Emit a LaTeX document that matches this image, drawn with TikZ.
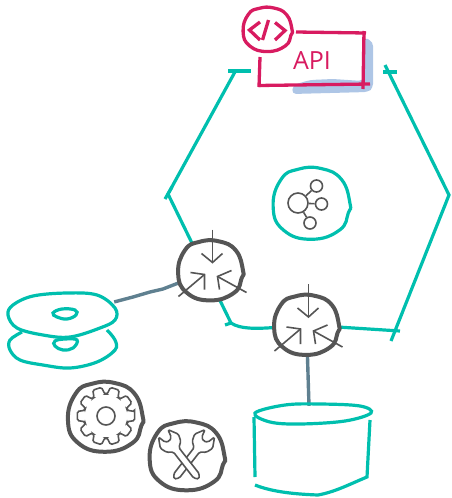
\documentclass[tikz,border=0pt]{standalone}
\usepackage{fontspec}
\setmainfont{Open Sans}
\usetikzlibrary{positioning}
\definecolor{tealline}{HTML}{00BFAE}
\definecolor{inkgrey}{HTML}{555555}
\definecolor{wiregrey}{HTML}{5F8090}
\definecolor{apired}{HTML}{D81B60}
\definecolor{shadowblue}{HTML}{AEC6E6}

\tikzset{
    wobble/.pic={
        \draw[pic actions] plot[smooth cycle, tension=0.8] coordinates {(0:1) (40:1.02) (75:0.99) (110:1) (140:1.03) (185:1) (225:1.03) (270:0.98) (315:1.03) (345:0.99)};
    },
    squeeze/.pic={
        \draw[thinline] (2,-41) -- (2,-8);
        \draw[thinline] (-9,-17) -- (2,-8) -- (12,-17);
        \draw[thinline] (-32,26) -- (-6,4);
        \draw[thinline] (-20,2) -- (-6,4) -- (-6,19);
        \draw[thinline] (36,22) -- (7,6);
        \draw[thinline] (21,0) -- (7,6) -- (9,19);
    },
    spanner/.pic={
        \draw[thinline, fill=white, rounded corners=1.5pt] (-3.5,10) -- (-3.5,43) -- (0,47) -- (3.5,43) -- (3.5,10) -- (9,6) -- (11.5,-1) -- (6,-11) -- (4,-3) -- (0,-1) -- (-4,-3) -- (-6,-11) -- (-11.5,-1) -- (-9,6) -- cycle;
    }
}

\begin{document}
\begin{tikzpicture}[x=1pt, y=-1pt]
    \tikzstyle{teal} = [draw=tealline, line width=3.2pt]
    \tikzstyle{ink} = [draw=inkgrey, line width=4pt]
    \tikzstyle{thinline} = [draw=inkgrey, line width=1.6pt]
    \tikzstyle{wire} = [draw=wiregrey, line width=3.4pt]
    \tikzstyle{redline} = [draw=apired, line width=3.3pt]
    \tikzstyle{bubble} = [circle, thinline, fill=white, inner sep=0pt]
    \tikzstyle{spot} = [inner sep=0pt, minimum size=0pt]

    \useasboundingbox (0,0) rectangle (451,498);

    \node[spot, circle, minimum size=60pt] (hubA) at (210.5,270.5) {};
    \node[spot, circle, minimum size=60pt] (hubB) at (306.5,325) {};
    \node[spot] (codeBadge) at (267.5,29.5) {};
    \node[spot] (serviceBlob) at (311.5,203.5) {};
    \node[spot] (gearBlob) at (105.3,417) {};
    \node[spot] (toolBlob) at (187,456) {};
    \node[spot] (diskEnd) at (114,302) {};
    \node[spot] (jarTop) at (309,406) {};
    \coordinate (wireBend) at (150,292);

    % wires
    \draw[wire] (diskEnd) -- (133,297) -- (wireBend) -- (163,289) -- (hubA);
    \draw[wire] (hubB) -- (jarTop);

    % hexagon
    \draw[teal] (236,70) -- (168,194) -- (231,323) .. controls (240,329) and (255,329) .. (hubB);
    \draw[teal] (hubB) -- (400,331);
    \draw[teal] (391,341) -- (449,195) -- (385,65);
    \draw[teal] (228,71) -- (251,71);
    \draw[teal] (165,199) -- (172,187);
    \draw[teal] (231,323) -- (225,325);
    \draw[teal] (383,72) -- (397,72);

    % api
    \fill[shadowblue, rounded corners=4pt] (292,94) -- (293,85) -- (310,80) -- (333,79) -- (363,81) -- (364,37) -- (373,42) -- (373,88) -- (368,92) -- cycle;
    \draw[redline] (296,32) -- (366,33);
    \draw[redline] (364,31) -- (363,89);
    \draw[redline] (370,84) -- (258,85.5);
    \draw[redline] (260,57) -- (259,87);
    \node[text=apired, font=\fontsize{25}{25}\selectfont, inner sep=0pt] (apiText) at (312,61) {API};
    \pic[redline, fill=white, x=24.5pt, y=22.5pt] at (codeBadge) {wobble};
    \draw[redline] (260,22) -- (249.5,30) -- (260,40);
    \draw[redline] (268.5,20) -- (262.5,40);
    \draw[redline] (275,22.5) -- (285,30.5) -- (275,40);

    % service
    \pic[teal, x=38.5pt, y=36.5pt] at (serviceBlob) {wobble};
    \node[bubble, minimum size=20pt] (bigDot) at (298,203) {};
    \node[bubble, minimum size=12pt] (dotA) at (316.5,186) {};
    \node[bubble, minimum size=12pt] (dotB) at (321.5,204) {};
    \node[bubble, minimum size=12pt] (dotC) at (310,223) {};
    \foreach \dot in {dotA,dotB,dotC}
        \draw[thinline] (bigDot) -- (\dot);

    % hubs
    \pic[ink, fill=white, x=32.5pt, y=30.5pt] at (hubA) {wobble};
    \pic[ink, fill=white, x=32.5pt, y=30.5pt] at (hubB) {wobble};
    \pic at (hubA) {squeeze};
    \pic at (hubB) {squeeze};

    % disks
    \draw[teal] plot[smooth, tension=0.6] coordinates {(22,332) (10,340) (10,350) (20,360) (43,365) (70,368) (97,362) (115,350) (115,340) (107,330)};
    \draw[teal] plot[smooth cycle, tension=0.7] coordinates {(55,341) (65,339) (77,340) (73,348) (63,350) (55,346)};
    \draw[teal] plot[smooth cycle, tension=0.6] coordinates {(8,315) (13,305) (33,296) (67,293) (97,295) (115,308) (115,320) (100,328) (70,337) (43,335) (17,328)};
    \draw[teal] plot[smooth cycle, tension=0.7] coordinates {(53,313) (62,309) (75,310) (76,315) (67,319) (57,317)};

    % gear
    \pic[ink, x=37.5pt, y=35.5pt] at (gearBlob) {wobble};
    \begin{scope}[shift={(106,416)}]
        \draw[thinline, rounded corners=1.5pt] (-9:29) \foreach \a in {0,36,...,324} { -- (\a-9:29) -- (\a+9:29) -- (\a+15:22) -- (\a+21:22)} -- cycle;
        \draw[thinline] (0,0) circle (9);
    \end{scope}

    % tools
    \pic[ink, x=37.5pt, y=35pt] at (toolBlob) {wobble};
    \pic[rotate=-38] at (203,442) {spanner};
    \pic[rotate=38] at (170,442) {spanner};

    % jar
    \draw[teal] plot[smooth cycle, tension=0.6] coordinates {(255,413) (285,405) (320,404) (360,406) (371,413) (345,421) (300,424) (270,422)};
    \draw[teal] (254,417) -- (255,477);
    \draw[teal] (255,485) .. controls (270,491) and (290,494) .. (318,495) .. controls (335,492) and (350,484) .. (367,477) -- (370,420);
\end{tikzpicture}
\end{document}
